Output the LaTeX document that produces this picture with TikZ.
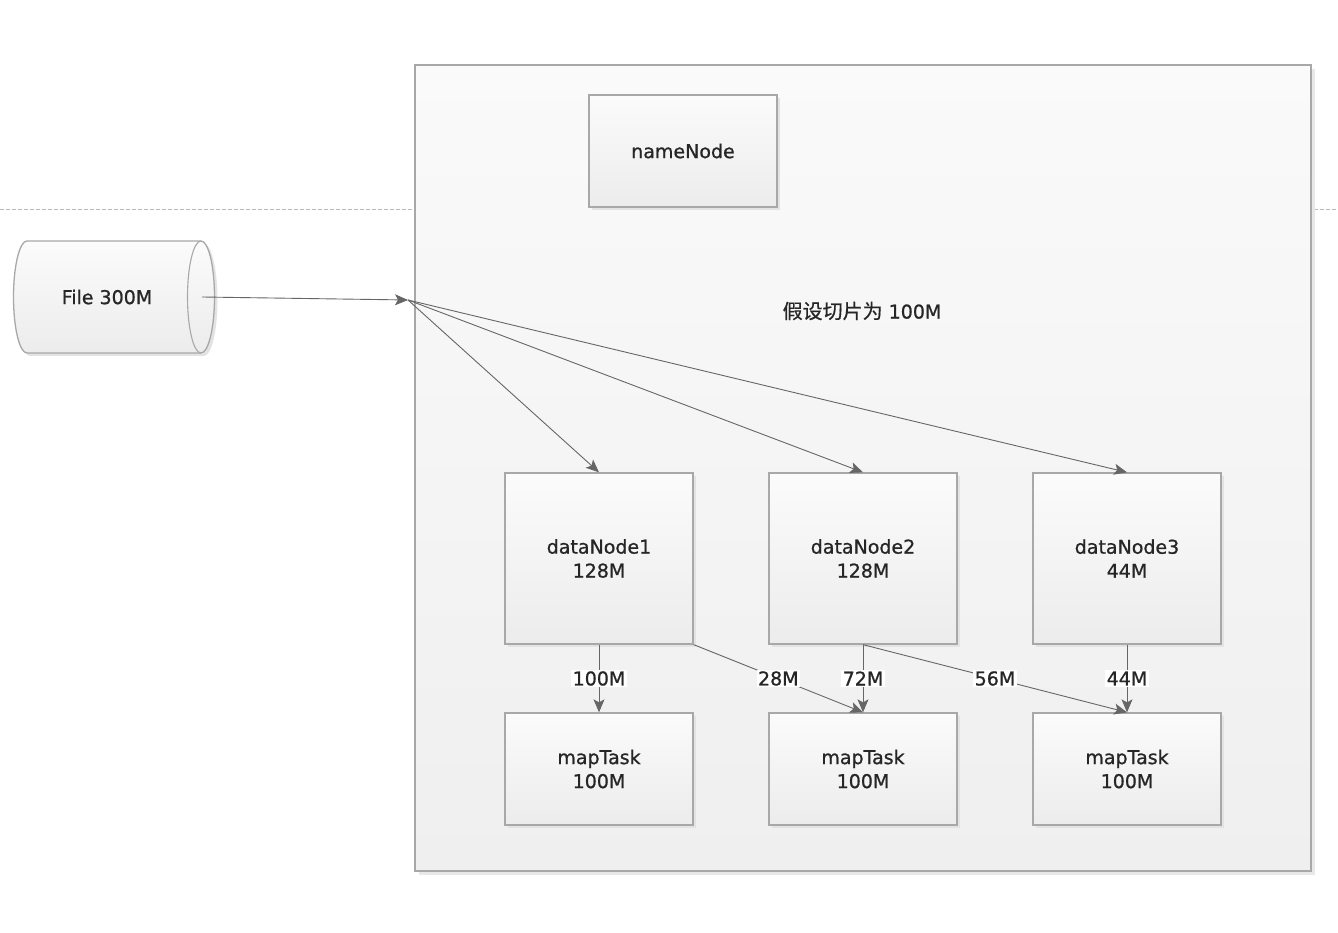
\documentclass[tikz,border=0pt]{standalone}
\usepackage{fontspec}
\setmainfont{DejaVu Sans}[FakeBold=0.9]
\newfontfamily\cjk{Noto Sans CJK SC}[FakeBold=0.6]
\usetikzlibrary{arrows.meta,shadows}
\definecolor{bordergray}{HTML}{A8A8A8}
\definecolor{boxtop}{HTML}{FBFBFB}
\definecolor{boxbot}{HTML}{ECECEC}
\definecolor{conttop}{HTML}{FAFAFA}
\definecolor{contbot}{HTML}{EFEFEF}
\definecolor{textgray}{HTML}{262626}
\definecolor{arrowgray}{HTML}{666666}
\definecolor{dashgray}{HTML}{BBBBBB}
\tikzset{
  boxsh/.style={drop shadow={shadow xshift=3pt,shadow yshift=-3pt,fill=black!11,opacity=1}},
  box/.style={draw=bordergray, line width=1.3pt, top color=boxtop, bottom color=boxbot,
    boxsh, text=textgray, align=center, inner sep=0pt, minimum width=188pt},
  container/.style={draw=bordergray, line width=1.5pt, top color=conttop, bottom color=contbot,
    drop shadow={shadow xshift=4pt,shadow yshift=-4pt,fill=black!9,opacity=1}},
  arr/.style={draw=arrowgray, line width=0.9pt, -{Stealth[length=13pt,width=11pt,inset=3pt]}},
  lbl/.style={fill=white, text=textgray, inner sep=1.5pt},
  dashline/.style={draw=dashgray, line width=0.9pt, dash pattern=on 4pt off 2pt}
}
\begin{document}
\begin{tikzpicture}[x=1pt,y=1pt,font=\fontsize{19}{24}\selectfont]
\useasboundingbox (0,0) rectangle (1338,932);
\fill[white] (0,0) rectangle (1338,932);

% dashed divider
\draw[dashline] (0,723) -- (1338,723);

% container
\node[container, minimum width=896pt, minimum height=806pt] (cont) at (863,464) {};

% name node
\node[box, minimum height=112pt] (name) at (683,781) {nameNode};

% file cylinder
\path[draw=bordergray, line width=1.3pt, top color=boxtop, bottom color=boxbot, boxsh]
  (27,691) -- (201,691) arc[start angle=90,end angle=-90,x radius=13.5,y radius=56]
  -- (27,579) arc[start angle=270,end angle=90,x radius=13.5,y radius=56] -- cycle;
\draw[bordergray, line width=1.1pt] (201,691) arc[start angle=90,end angle=270,x radius=13.5,y radius=56];
\node[text=textgray] (file) at (107,635) {File 300M};

% hub and label
\coordinate (fileout) at (202,635);
\coordinate (hub) at (408,632);
\node[text=textgray] (split) at (862,621) {{\cjk\fontsize{20}{24}\selectfont 假设切片为} 100M};

% data nodes
\node[box, minimum height=171pt] (dn1) at (599,373.5) {dataNode1\\128M};
\node[box, minimum height=171pt] (dn2) at (863,373.5) {dataNode2\\128M};
\node[box, minimum height=171pt] (dn3) at (1127,373.5) {dataNode3\\44M};

% map tasks
\node[box, minimum height=112pt] (mt1) at (599,163) {mapTask\\100M};
\node[box, minimum height=112pt] (mt2) at (863,163) {mapTask\\100M};
\node[box, minimum height=112pt] (mt3) at (1127,163) {mapTask\\100M};

% connectors
\draw[arr] (fileout) -- (hub);
\draw[arr] (hub) -- (dn1.north);
\draw[arr] (hub) -- (dn2.north);
\draw[arr] (hub) -- (dn3.north);

\draw[arr] (dn1.south) -- node[lbl] {100M} (mt1.north);
\draw[arr] (dn1.south east) -- node[lbl] {28M} (mt2.north);
\draw[arr] (dn2.south) -- node[lbl] {72M} (mt2.north);
\draw[arr] (dn2.south) -- node[lbl] {56M} (mt3.north);
\draw[arr] (dn3.south) -- node[lbl] {44M} (mt3.north);
\end{tikzpicture}
\end{document}
